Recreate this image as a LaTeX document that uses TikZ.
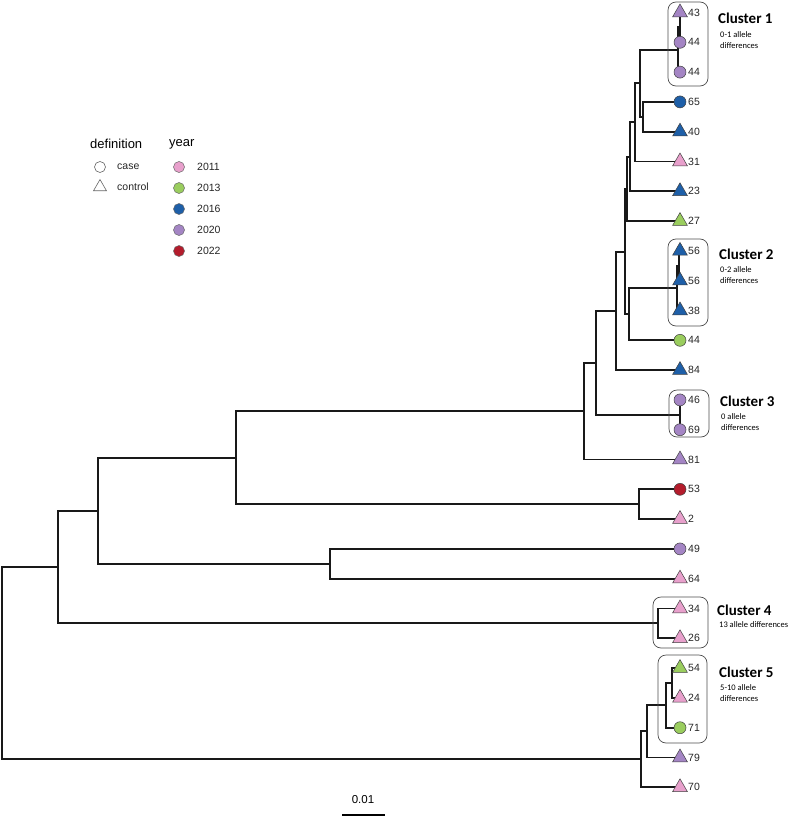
\documentclass[tikz,border=0pt]{standalone}
\usepackage{fontspec}
\setmainfont{Liberation Sans}
\newfontfamily\clfont{Carlito}
\usetikzlibrary{shapes.geometric,calc}
\definecolor{cA}{HTML}{E8A0CC}
\definecolor{cB}{HTML}{9ACD5E}
\definecolor{cC}{HTML}{1E5FA8}
\definecolor{cD}{HTML}{A485C4}
\definecolor{cE}{HTML}{B41C2C}
\newcommand\inode[4]{%
  \path let \p1=($(#3)!.5!(#4)$) in coordinate (#1) at (#2,\y1);
  \draw[branch] (#3) -| (#1) |- (#4);}
\begin{document}
\begin{tikzpicture}[x=1pt,y=-1pt,
  branch/.style={line width=1.9pt, black!90},
  symc/.style={circle, inner sep=0, minimum size=12pt, draw=black!75, line width=0.5pt},
  symt/.style={regular polygon, regular polygon sides=3, inner sep=0, minimum size=17pt, draw=black!75, line width=0.5pt},
  lab/.style={anchor=west, font=\fontsize{10.5}{12}\selectfont, text=black!85, inner sep=0},
  clbox/.style={draw=black!70, line width=0.7pt, rounded corners=8pt},
  cltitle/.style={anchor=west, font=\clfont\bfseries\fontsize{15}{18}\selectfont, inner sep=0},
  clnote/.style={anchor=north west, font=\clfont\fontsize{8.5}{11.5}\selectfont, align=left, inner sep=0},
  leghead/.style={anchor=west, font=\fontsize{13}{15}\selectfont, inner sep=0},
  legtext/.style={anchor=west, font=\fontsize{10.5}{12}\selectfont, text=black!85, inner sep=0},
  ]
\useasboundingbox (0,0) rectangle (794,819);
% leaves
\foreach \i in {1,...,27} \coordinate (l\i) at (680,{12.5+(\i-1)*29.8});
% internal nodes
\inode{X}{680}{l1}{l2}
\inode{W}{678}{X}{l3}
\inode{R}{643}{l4}{l5}
\inode{S}{640}{W}{R}
\inode{T}{635}{S}{l6}
\inode{U}{630}{T}{l7}
\inode{V}{627}{U}{l8}
\inode{Y}{679}{l9}{l10}
\inode{Z}{677}{Y}{l11}
\inode{O}{629}{Z}{l12}
\inode{M}{625}{V}{O}
\inode{L}{616}{M}{l13}
\inode{Q}{680}{l14}{l15}
\inode{K}{596}{L}{Q}
\inode{I}{584}{K}{l16}
\inode{J}{639}{l17}{l18}
\inode{G}{236}{I}{J}
\inode{H}{330}{l19}{l20}
\inode{F}{98}{G}{H}
\inode{P}{658}{l21}{l22}
\inode{E}{58}{F}{P}
\inode{D}{672}{l23}{l24}
\inode{C}{666}{D}{l25}
\inode{B}{647}{C}{l26}
\inode{A}{641}{B}{l27}
\inode{root}{2}{E}{A}
% cluster boxes
\draw[clbox] (668,2) rectangle (708,86);
\draw[clbox] (668,239) rectangle (708,326);
\draw[clbox] (669,390) rectangle (709,437);
\draw[clbox] (653,597) rectangle (708,648);
\draw[clbox] (658,655) rectangle (707,743);
\node[cltitle] (t1) at (718,18) {Cluster 1};
\node[clnote] (d1) at (720,31) {0-1 allele\\differences};
\node[cltitle] (t2) at (719,254) {Cluster 2};
\node[clnote] (d2) at (720,266) {0-2 allele\\differences};
\node[cltitle] (t3) at (720,401) {Cluster 3};
\node[clnote] (d3) at (721,413) {0 allele\\differences};
\node[cltitle] (t4) at (717,610) {Cluster 4};
\node[clnote] (d4) at (719,621) {13 allele differences};
\node[cltitle] (t5) at (719,672) {Cluster 5};
\node[clnote] (d5) at (720,684) {5-10 allele\\differences};
% tip symbols and labels
\foreach \i/\s/\c/\t in {1/t/cD/43, 2/c/cD/44, 3/c/cD/44, 4/c/cC/65, 5/t/cC/40, 6/t/cA/31, 7/t/cC/23, 8/t/cB/27, 9/t/cC/56, 10/t/cC/56, 11/t/cC/38, 12/c/cB/44, 13/t/cC/84, 14/c/cD/46, 15/c/cD/69, 16/t/cD/81, 17/c/cE/53, 18/t/cA/2, 19/c/cD/49, 20/t/cA/64, 21/t/cA/34, 22/t/cA/26, 23/t/cB/54, 24/t/cA/24, 25/c/cB/71, 26/t/cD/79, 27/t/cA/70}
{
  \node[sym\s, fill=\c] (s\i) at (l\i) {};
  \node[lab] (n\i) at ([xshift=8pt]l\i) {\t};
}
% legend
\node[leghead] (hdef) at (90,144) {definition};
\node[leghead] (hyear) at (169,144) {year};
\node[circle, inner sep=0, minimum size=11pt, draw=black!60, line width=0.6pt] (gcase) at (100,167) {};
\node[legtext] (tcase) at (117,167) {case};
\node[regular polygon, regular polygon sides=3, inner sep=0, minimum size=15pt, draw=black!60, line width=0.6pt] (gctrl) at (100,187) {};
\node[legtext] (tctrl) at (117,187) {control};
\foreach \k/\c/\t in {0/cA/2011, 1/cB/2013, 2/cC/2016, 3/cD/2020, 4/cE/2022}
{
  \node[circle, inner sep=0, minimum size=11pt, draw=black!60, line width=0.5pt, fill=\c] (gy\k) at (179,{167+\k*21}) {};
  \node[legtext] (ty\k) at (197,{167+\k*21}) {\t};
}
% scale bar
\coordinate (sb1) at (342,815);
\coordinate (sb2) at (385,815);
\draw[line width=1.2pt] (sb1) -- (sb2);
\node[font=\fontsize{11.5}{13}\selectfont, inner sep=0] (sbl) at (363,800) {0.01};
\end{tikzpicture}
\end{document}
